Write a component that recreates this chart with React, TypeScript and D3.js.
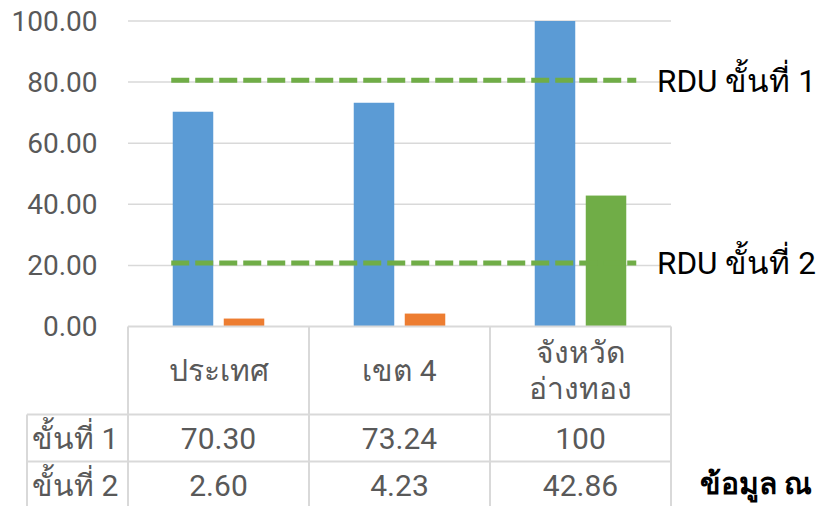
import React from "react";
import * as d3 from "d3";

const categories = ["ประเทศ", "เขต 4", "จังหวัด\nอ่างทอง"];
const seriesNames = ["ขั้นที่ 1", "ขั้นที่ 2"];
const step1Values = [70.3, 73.24, 100];
const step2Values = [2.6, 4.23, 42.86];
const step1Labels = ["70.30", "73.24", "100"];
const step2Labels = ["2.60", "4.23", "42.86"];
const rduLevels = [80.6, 20.8];
const rduLabels = ["RDU ขั้นที่ 1", "RDU ขั้นที่ 2"];
const yTicks = [0, 20, 40, 60, 80, 100];
const step2Colors = ["#ED7D31", "#ED7D31", "#70AD47"];

const W = 821;
const H = 506;
const FONT = "Roboto, 'Noto Sans', 'DejaVu Sans', sans-serif";

export default function App() {
  const x = d3.scaleBand<number>().domain(d3.range(categories.length)).range([128, 671]).padding(0);
  const y = d3.scaleLinear().domain([0, 100]).range([326.5, 21]);
  const sub = d3.scaleBand<number>().domain([0, 1]).range([0, x.bandwidth()]).paddingInner(0.206).paddingOuter(0.877);
  const bw = sub.bandwidth();
  const grid = "#D9D9D9";
  const textCol = "#595959";

  const lineX1 = (x(0) as number) + (sub(0) as number) - 1.5;
  const lineX2 = (x(2) as number) + (sub(1) as number) + bw + 10;

  const tableTop = y(0);
  const headerBottom = 414.5;
  const row1Bottom = 461.5;
  const tableBottom = 520;
  const rowLeft = 27;

  return (
    <svg width={W} height={H} style={{ position: "absolute", left: 0, top: 0 }} fontFamily={FONT}>
      <rect width={W} height={H} fill="#fff" />
      {yTicks.filter((t) => t > 0).map((t) => (
        <line key={t} x1={x.range()[0]} x2={x.range()[1]} y1={y(t)} y2={y(t)} stroke={grid} strokeWidth={1.5} />
      ))}
      {yTicks.map((t) => (
        <text key={"l" + t} x={97.5} y={y(t)} dy="0.35em" textAnchor="end" fontSize={28} fill={textCol}>
          {t.toFixed(2)}
        </text>
      ))}
      {step1Values.map((v, i) => (
        <rect key={"a" + i} x={(x(i) as number) + (sub(0) as number)} y={y(v)} width={bw} height={y(0) - y(v)} fill="#5B9BD5" />
      ))}
      {step2Values.map((v, i) => (
        <rect key={"b" + i} x={(x(i) as number) + (sub(1) as number)} y={y(v)} width={bw} height={y(0) - y(v)} fill={step2Colors[i]} />
      ))}
      {rduLevels.map((v, i) => (
        <g key={"r" + i}>
          <line x1={lineX1} x2={lineX2} y1={y(v)} y2={y(v)} stroke="#70AD47" strokeWidth={5} strokeDasharray="18 6" />
          <text x={657} y={y(v)} dy="0.36em" fontSize={31.5} fill="#000">
            {rduLabels[i]}
          </text>
        </g>
      ))}
      {/* data table */}
      <g stroke={grid} strokeWidth={2} fill="none">
        <line x1={x.range()[0]} x2={x.range()[1]} y1={tableTop} y2={tableTop} />
        <line x1={rowLeft} x2={x.range()[1]} y1={headerBottom} y2={headerBottom} />
        <line x1={rowLeft} x2={x.range()[1]} y1={row1Bottom} y2={row1Bottom} />
        <line x1={rowLeft} x2={rowLeft} y1={headerBottom} y2={tableBottom} />
        {d3.range(categories.length + 1).map((i) => {
          const xx = i < categories.length ? (x(i) as number) : x.range()[1];
          return <line key={"v" + i} x1={xx} x2={xx} y1={tableTop} y2={tableBottom} />;
        })}
      </g>
      {categories.map((c, i) => {
        const lines = c.split("\n");
        const cx = (x(i) as number) + x.bandwidth() / 2;
        const mid = (tableTop + headerBottom) / 2;
        return (
          <text key={"c" + i} x={cx} textAnchor="middle" fontSize={30} fill={textCol}>
            {lines.map((ln, j) => (
              <tspan key={j} x={cx} y={mid + (j - (lines.length - 1) / 2) * 36} dy="0.35em">
                {ln}
              </tspan>
            ))}
          </text>
        );
      })}
      {[step1Labels, step2Labels].map((row, r) => {
        const cy = r === 0 ? (headerBottom + row1Bottom) / 2 : row1Bottom + 23.5;
        return (
          <g key={"row" + r}>
            <text x={32} y={cy} dy="0.35em" fontSize={30} fill={textCol}>
              {seriesNames[r]}
            </text>
            {row.map((lab, i) => (
              <text key={i} x={(x(i) as number) + x.bandwidth() / 2} y={cy} dy="0.35em" textAnchor="middle" fontSize={30} fill={textCol}>
                {lab}
              </text>
            ))}
          </g>
        );
      })}
      <text x={700} y={494} fontSize={30} fontWeight="bold" fill="#000">
        ข้อมูล ณ
      </text>
    </svg>
  );
}
